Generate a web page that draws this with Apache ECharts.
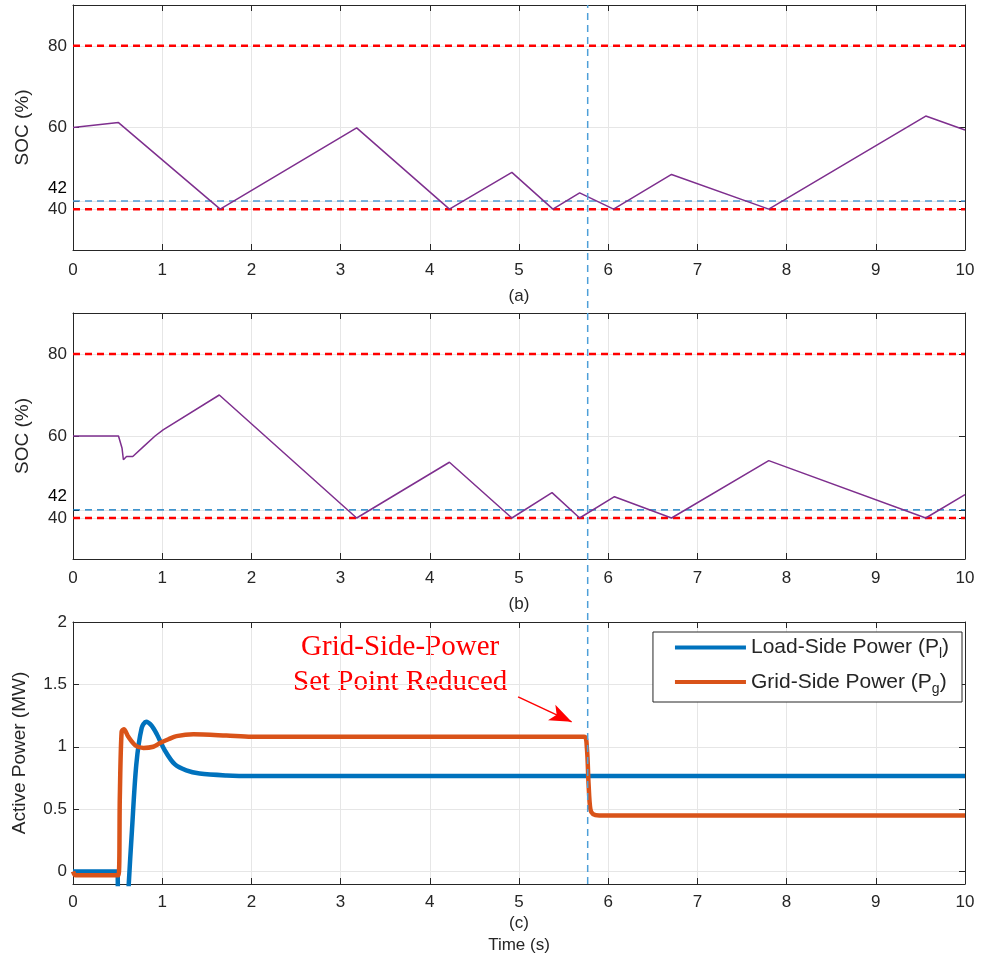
<!DOCTYPE html>
<html><head><meta charset="utf-8">
<script src="https://cdn.jsdelivr.net/npm/echarts@6/dist/echarts.min.js"></script>
<style>html,body{margin:0;padding:0;background:#fff}#c{width:984px;height:973px}</style>
</head><body><div id="c"></div><script>
// ---- data ----
const socTicks = [40, 42, 60, 80];
const powerTicks = [0, 0.5, 1, 1.5, 2];
const socLimits = [40, 80];
const socRef = 42;
const eventTime = 5.77;

const socA_t = [0, 0.51, 1.65, 3.18, 4.22, 4.92, 5.38, 5.68, 6.06, 6.71, 7.80, 9.56, 10];
const socA   = [60, 61.2, 40, 59.9, 40, 49.0, 40, 44.0, 40, 48.5, 40, 62.8, 59.4];

const socB_t = [0, 0.51, 0.55, 0.565, 0.6, 0.67, 0.79, 0.92, 1.01, 1.64, 3.18, 4.22, 4.92, 5.37, 5.68, 6.07, 6.71, 7.80, 9.56, 10];
const socB   = [60, 60, 57, 54.2, 55, 55, 57.4, 60, 61.5, 70, 40, 53.6, 40, 46.2, 40, 45.2, 40, 54.0, 40, 45.7];

const load_t = [0, 0.5, 0.505, 0.6, 0.625, 0.66, 0.71, 0.77, 0.82, 0.88, 0.94, 1.03, 1.14, 1.27, 1.42, 1.72, 2.0, 10];
const loadP  = [0, 0, -0.5, -0.5, -0.1, 0.32, 0.86, 1.15, 1.2, 1.17, 1.10, 0.97, 0.86, 0.81, 0.785, 0.77, 0.765, 0.765];

const grid_t = [0, 0.03, 0.51, 0.525, 0.545, 0.57, 0.62, 0.7, 0.79, 0.9, 0.975, 1.07, 1.16, 1.35, 1.72, 2.0, 5.73, 5.76, 5.78, 5.80, 5.83, 5.9, 10];
const gridP  = [0, -0.03, -0.03, 0.6, 1.12, 1.14, 1.08, 1.01, 0.99, 1.0, 1.03, 1.06, 1.085, 1.1, 1.09, 1.08, 1.08, 1.0, 0.7, 0.5, 0.46, 0.45, 0.45];

const annotText = 'Grid-Side-Power\nSet Point Reduced';
const arrowFrom = [4.99, 1.40];
const arrowTo = [5.59, 1.20];

// ---- helpers ----
const pairs = (t, v) => t.map((x, i) => [x, v[i]]);
const AX = '#262626';
const GRIDC = '#e6e6e6';
const FONT = 'Liberation Sans, Arial, sans-serif';
const L = 73, R = 19;
const grids = [
  {left: L, right: R, top: 5, height: 245},
  {left: L, right: R, top: 313, height: 246},
  {left: L, right: R, top: 622, height: 262},
  {left: L, right: R, top: 5, height: 879}
].map(g => Object.assign({outerBoundsMode: 'none', containLabel: false}, g));

function xMain(gi, name, gap, margin) {
  return {
    type: 'value', gridIndex: gi, min: 0, max: 10, interval: 1, position: 'bottom',
    axisLine: {show: true, onZero: false, lineStyle: {color: AX, width: 1}},
    axisTick: {show: true, inside: true, length: 6, lineStyle: {color: AX}},
    axisLabel: {color: AX, fontSize: 17, fontFamily: FONT, margin: margin, hideOverlap: false},
    splitLine: {show: true, lineStyle: {color: GRIDC, width: 1}},
    name: name, nameLocation: 'middle', nameGap: gap,
    nameTextStyle: {color: AX, fontSize: 17, fontFamily: FONT, lineHeight: 22}
  };
}
function xTop(gi) {
  return {
    type: 'value', gridIndex: gi, min: 0, max: 10, interval: 1, position: 'top',
    axisLine: {show: true, onZero: false, lineStyle: {color: AX, width: 1}},
    axisTick: {show: true, inside: true, length: 6, lineStyle: {color: AX}},
    axisLabel: {show: false}, splitLine: {show: false}
  };
}
function yMain(gi, min, max, ticks, name, gap, shiftVal) {
  return {
    type: 'value', gridIndex: gi, min: min, max: max, position: 'left',
    axisLine: {show: true, onZero: false, lineStyle: {color: AX, width: 1}},
    axisTick: {show: true, inside: true, length: 6, lineStyle: {color: AX}, customValues: ticks},
    axisLabel: {
      color: AX, fontSize: 17, fontFamily: FONT, margin: 6, customValues: ticks, hideOverlap: false,
      formatter: function (v) { return v === shiftVal ? '{u|' + v + '}' : String(v); },
      rich: {u: {color: '#000', fontSize: 17, fontFamily: FONT, padding: [0, 0, 26, 0]}}
    },
    splitLine: {show: true, lineStyle: {color: GRIDC, width: 1}},
    name: name, nameLocation: 'middle', nameGap: gap,
    nameTextStyle: {color: AX, fontSize: 19, fontFamily: FONT}
  };
}
function yRight(gi, min, max, ticks) {
  return {
    type: 'value', gridIndex: gi, min: min, max: max, position: 'right',
    axisLine: {show: true, onZero: false, lineStyle: {color: AX, width: 1}},
    axisTick: {show: true, inside: true, length: 6, lineStyle: {color: AX}, customValues: ticks},
    axisLabel: {show: false, customValues: ticks}, splitLine: {show: false}
  };
}
function hline(xi, yi, val, color, width, dash) {
  return {
    type: 'line', xAxisIndex: xi, yAxisIndex: yi, data: [[0, val], [10, val]],
    showSymbol: false, silent: true, z: 3,
    lineStyle: {color: color, width: width, type: dash}
  };
}

const option = {
  animation: false,
  backgroundColor: '#fff',
  textStyle: {fontFamily: FONT},
  grid: grids,
  xAxis: [
    xMain(0, '(a)', 35, 12), xTop(0),
    xMain(1, '(b)', 34, 11), xTop(1),
    xMain(2, '(c)\nTime (s)', 27, 10), xTop(2),
    {type: 'value', gridIndex: 3, min: 0, max: 10, show: false}
  ],
  yAxis: [
    yMain(0, 30, 90, socTicks, 'SOC (%)', 41, socRef), yRight(0, 30, 90, socTicks),
    yMain(1, 30, 90, socTicks, 'SOC (%)', 41, socRef), yRight(1, 30, 90, socTicks),
    yMain(2, -0.1, 2, powerTicks, 'Active Power (MW)', 44, null), yRight(2, -0.1, 2, powerTicks),
    {type: 'value', gridIndex: 3, min: 0, max: 1, show: false}
  ],
  legend: {
    data: ['Load-Side Power (Pl)', 'Grid-Side Power (Pg)'],
    orient: 'vertical', right: 22, top: 632,
    padding: [5, 13, 6, 22], itemGap: 10,
    itemWidth: 71, itemHeight: 4, icon: 'rect',
    backgroundColor: '#fff', borderColor: AX, borderWidth: 1, borderRadius: 0,
    formatter: function (n) {
      return n.indexOf('(Pl)') >= 0 ? 'Load-Side Power (P{s|l})' : 'Grid-Side Power (P{s|g})';
    },
    textStyle: {
      color: AX, fontSize: 21, fontFamily: FONT,
      rich: {s: {fontSize: 14, fontFamily: FONT, color: AX, padding: [14, 0, 0, 0]}}
    }
  },
  graphic: [{
    type: 'text', left: 413 - 120, top: 630,
    style: {
      text: annotText, fill: '#ff0000', font: '29px "Liberation Serif", "Times New Roman", serif',
      textAlign: 'center', lineHeight: 35, x: 120
    }
  }],
  series: [
    hline(0, 0, socLimits[1], '#ff0000', 2.5, [7, 5]),
    hline(0, 0, socLimits[0], '#ff0000', 2.5, [7, 5]),
    hline(0, 0, socRef, '#4d9bd4', 1.5, [7, 5]),
    {type: 'line', xAxisIndex: 0, yAxisIndex: 0, data: pairs(socA_t, socA), showSymbol: false, z: 4,
     lineStyle: {color: '#7E2F8E', width: 1.5}},
    hline(2, 2, socLimits[1], '#ff0000', 2.5, [7, 5]),
    hline(2, 2, socLimits[0], '#ff0000', 2.5, [7, 5]),
    hline(2, 2, socRef, '#0072BD', 1.3, [7, 5]),
    {type: 'line', xAxisIndex: 2, yAxisIndex: 2, data: pairs(socB_t, socB), showSymbol: false, z: 4,
     lineStyle: {color: '#7E2F8E', width: 1.5}},
    {name: 'Load-Side Power (Pl)', type: 'line', xAxisIndex: 4, yAxisIndex: 4, data: pairs(load_t, loadP),
     showSymbol: false, smooth: 0.3, z: 4, itemStyle: {color: '#0072BD'}, lineStyle: {color: '#0072BD', width: 4.5}},
    {name: 'Grid-Side Power (Pg)', type: 'line', xAxisIndex: 4, yAxisIndex: 4, data: pairs(grid_t, gridP),
     showSymbol: false, smooth: 0.3, z: 5, itemStyle: {color: '#D95319'}, lineStyle: {color: '#D95319', width: 4.5},
     markLine: {
       silent: true, symbol: ['none', 'arrow'], symbolSize: [13, 22],
       label: {show: false},
       lineStyle: {color: '#ff0000', width: 1.5, type: 'solid'},
       data: [[{coord: arrowFrom}, {coord: arrowTo}]]
     }},
    {type: 'line', xAxisIndex: 6, yAxisIndex: 6, data: [[eventTime, 0], [eventTime, 1]], showSymbol: false,
     silent: true, z: 6, lineStyle: {color: '#4d9fd8', width: 1.5, type: [7, 5]}}
  ]
};
const chart = echarts.init(document.getElementById('c'), null, {renderer: 'canvas'});
chart.setOption(option);
</script></body></html>
